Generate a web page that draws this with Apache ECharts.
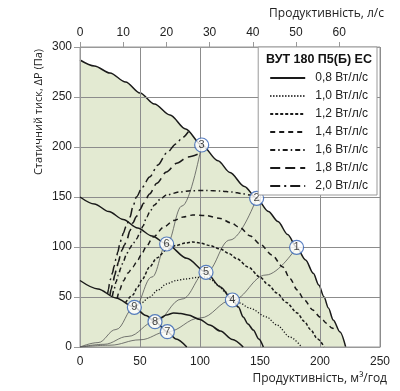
<!DOCTYPE html>
<html><head><meta charset="utf-8">
<script src="https://cdn.jsdelivr.net/npm/echarts@6/dist/echarts.min.js"></script>
<style>html,body{margin:0;padding:0;background:#fff}#c{width:400px;height:391px}</style>
</head><body><div id="c"></div>
<script>
const xTicks = [0, 50, 100, 150, 200, 250];
const yTicks = [0, 50, 100, 150, 200, 250, 300];
const topTicks = [0, 10, 20, 30, 40, 50, 60];
const legendNames = ['0,8 Вт/л/с','1,0 Вт/л/с','1,2 Вт/л/с','1,4 Вт/л/с','1,6 Вт/л/с','1,8 Вт/л/с','2,0 Вт/л/с'];

const envelope = [[0,287],[12,281],[25,274],[38,265],[50,254],[62,243],[75,232],[88,218],[101.4,202],[115,186.2],[125,174.5],[137,160.5],[147.2,148.7],[157,135.5],[165,125.5],[173,112.5],[180.5,99.7],[188,87],[194.4,73.7],[199,62],[203.3,50.3],[207,39],[211,27],[216.7,15],[221.4,0]];
const minUpper = [[0,150],[12,143],[24,135.5],[36,127.5],[48,119],[60,111],[72.2,103],[89,88.7],[105,74.7],[117,60],[127,47],[132,40],[136,30],[140,23],[144.4,17],[149,8],[152.8,0]];
const minLower = [[0,66.5],[15,58],[30,49],[45.3,39.7],[55,31.5],[62.5,25.3],[72.8,15.3],[80,8],[89,0]];

const p08 = [[62.5,25.3],[67,29],[72,32],[78,34],[84,33.5],[90,32],[100,27.5],[108,22],[117,16],[127,7.5],[136,0]];
const p10 = [[46,39.5],[51,44],[58,50],[65,57],[72,63],[80,66.5],[88,68],[97,69.5],[104,70],[109,67.5],[115,62],[120,56],[127,49],[133,44],[141.7,38.7],[155.6,30],[164,22],[175,10],[184.7,0]];
const p12 = [[38,44.5],[44,52],[48,60],[52,68],[58,80],[64,89],[72,97],[80,101.5],[88,104],[94,105],[100,104],[108,101.5],[117,98],[124,93.5],[131,88],[140,80],[150,70],[157,62],[164,54],[172,44.5],[181,34],[187,25.5],[192,17.5],[198,8],[203.5,0]];
const p14 = [[31,48.5],[33,57],[36,66],[40,74],[44,80],[47,84.5],[51,92],[55,100],[61,110],[70,120],[78,126.5],[86,130],[94,132],[105,131.5],[117,128.5],[126,124],[133,119.5],[142,111],[150,103],[160,92],[169,80],[175,68.5],[181,57],[187,47],[194,37],[200,30],[205.5,23.7],[210,19],[214,16]];
const p16 = [[27,51],[28.5,58],[30,65],[32,72],[34,79],[36,85],[38.5,92],[41,98],[44,103],[47,108],[50,114],[52.5,121],[55.6,130],[58.5,136],[62,142],[67,148],[72,152],[83,155],[92,156.3],[105,156.5],[117,156],[127,155],[135,153.5],[141.7,152],[147.2,148.7]];
const p18 = [[25,52],[26,58],[27.5,65],[29,72],[30.5,79],[32,85],[33.5,91],[35,97],[37,102],[39,107],[41.5,116],[44,124],[47,130.5],[50,137.5],[53,143.7],[58,153],[64,163.7],[72,175],[80.5,183.7],[90,190],[100,193.7]];
const p20 = [[23,53],[23.8,58],[24.5,63],[25.5,68],[27,74],[28.5,81],[30,88],[31.5,95],[33,102],[34.5,108],[36,113.7],[38.5,121],[41.7,130],[44,140],[47,150],[52,160],[58,170],[65,182],[72,193.7],[80,203],[85,209],[90.3,215.3]];

const sys1 = [[0,0],[15,4.4],[30,17.5],[45.3,39.7],[60,70],[72.2,103],[85,141],[101.4,202]];
const sys2 = [[0,0],[20,2.7],[40,10.6],[62.5,25.3],[85,48],[105,74.7],[125,107],[147.2,148.7]];
const sys3 = [[0,0],[25,1.8],[50,7.2],[72.8,15.3],[100,29],[127,47],[155,72],[180.5,99.7]];

const points = [[180.5,99.7,'1'],[147.2,148.7,'2'],[101.4,202,'3'],[127,47,'4'],[105,74.7,'5'],[72.2,103,'6'],[72.8,15.3,'7'],[62.5,25.3,'8'],[45.3,39.7,'9']];

const chart = echarts.init(document.getElementById('c'));
const ink = '#1a1a1a';
const clear = 'rgba(0,0,0,0)';
const tickFont = {fontFamily:'Liberation Sans, Arial, sans-serif', fontSize:12, color:'#222'};
function curve(name, data, type, width) {
  return {name:name, type:'line', data:data, smooth:0.3, smoothMonotone:'x', symbol:'none', z:3,
    itemStyle:{color:clear, borderColor:clear, borderWidth:0},
    lineStyle:{color:ink, width:width||1.5, type:type||'solid'}, emphasis:{disabled:true}, silent:true};
}
function thin(data){
  return {type:'line', data:data, smooth:0.4, smoothMonotone:'x', symbol:'none', z:3, silent:true,
    lineStyle:{color:'#555', width:0.8}, emphasis:{disabled:true}};
}
const option = {
  animation:false,
  grid:{left:80, right:20, top:47, bottom:44, show:true, borderColor:'#999', borderWidth:1, z:2, backgroundColor:'transparent'},
  xAxis:[{
    type:'value', min:0, max:250, interval:50, position:'bottom', z:2,
    axisLine:{show:true, lineStyle:{color:'#999'}}, axisTick:{show:false},
    axisLabel:Object.assign({margin:9, customValues:xTicks}, tickFont),
    splitLine:{show:true, lineStyle:{color:'#8c8c8c', width:1}}
  },{
    type:'value', min:0, max:250/3.6, interval:10, position:'top', z:2,
    axisLine:{show:true, lineStyle:{color:'#999'}},
    axisTick:{show:true, length:5, customValues:topTicks, lineStyle:{color:'#999'}},
    axisLabel:Object.assign({margin:8, customValues:topTicks,
      formatter:function(v){ return topTicks.indexOf(Math.round(v*1000)/1000) >= 0 ? String(v) : ''; }}, tickFont),
    splitLine:{show:false}
  }],
  yAxis:{
    type:'value', min:0, max:300, interval:50, z:2,
    axisLine:{show:true, lineStyle:{color:'#999'}},
    axisTick:{show:true, length:6, lineStyle:{color:'#999'}},
    axisLabel:Object.assign({margin:8, customValues:yTicks}, tickFont),
    splitLine:{show:true, lineStyle:{color:'#8c8c8c', width:1}}
  },
  legend:{
    orient:'vertical', right:23, top:47, data:legendNames,
    backgroundColor:'#fff', borderColor:'#999', borderWidth:1,
    padding:[25,9,3,11], itemWidth:35, itemHeight:12, itemGap:6, z:10,
    itemStyle:{opacity:0, color:clear, borderColor:clear},
    textStyle:{fontFamily:'Liberation Sans, Arial, sans-serif', fontSize:12, color:'#222', padding:[0,0,0,5]},
    selectedMode:false
  },
  graphic:[
    {type:'text', x:319, y:60, z:100, style:{text:'ВУТ 180 П5(Б) ЕС', fill:'#111', font:'bold 12.5px "Liberation Sans", Arial, sans-serif', textAlign:'center', textVerticalAlign:'middle'}},
    {type:'text', x:384, y:14, z:100, style:{text:'Продуктивність, л/с', fill:'#222', font:'12px "Open Sans", sans-serif', textAlign:'right', textVerticalAlign:'middle'}},
    {type:'text', x:387, y:379, z:100, style:{text:'Продуктивність, м³/год', fill:'#222', font:'12px "Open Sans", sans-serif', textAlign:'right', textVerticalAlign:'middle'}},
    {type:'text', x:39, y:112, rotation:Math.PI/2, z:100, style:{text:'Статичний тиск, ΔР (Па)', fill:'#222', font:'11px "Open Sans", sans-serif', textAlign:'center', textVerticalAlign:'middle'}}
  ],
  series:[
    {type:'line', data:envelope, smooth:0.3, smoothMonotone:'x', symbol:'none', z:1, silent:true,
      lineStyle:{color:ink, width:1.5}, areaStyle:{color:'#e3ead2', opacity:1}, emphasis:{disabled:true}},
    curve(null, minUpper, 'solid', 1.5),
    curve(null, minLower, 'solid', 1.5),
    thin(sys1), thin(sys2), thin(sys3),
    curve(legendNames[0], p08, 'solid', 1.6),
    curve(legendNames[1], p10, [1.2,1.8], 1.3),
    curve(legendNames[2], p12, [3,2], 1.5),
    curve(legendNames[3], p14, [5,4], 1.5),
    curve(legendNames[4], p16, [5,3,1.5,3], 1.5),
    curve(legendNames[5], p18, [10,5], 1.6),
    curve(legendNames[6], p20, [10,4,2,4], 1.5),
    {type:'scatter', data:points, symbol:'circle', symbolSize:14, z:6, silent:true,
      itemStyle:{color:'#fff', borderColor:'#2f5fb3', borderWidth:1.2},
      label:{show:true, position:'inside', formatter:function(p){return p.value[2];}, fontFamily:'Liberation Sans, Arial, sans-serif', fontSize:11, color:'#111'},
      emphasis:{disabled:true}}
  ]
};
chart.setOption(option);
</script>
</body></html>
